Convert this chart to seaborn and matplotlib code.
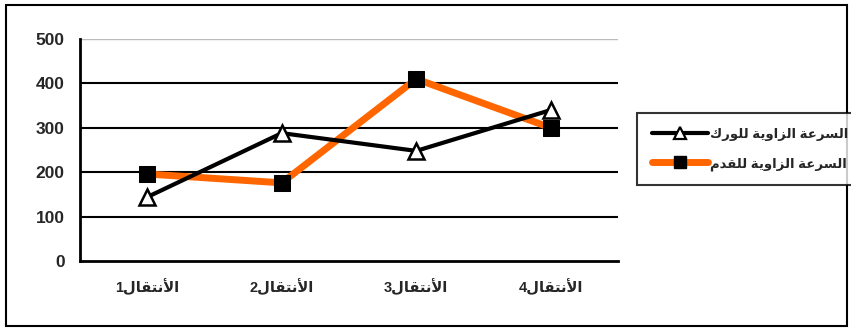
import matplotlib
matplotlib.use("Agg")
import matplotlib.pyplot as plt
from matplotlib.lines import Line2D
from matplotlib.patches import Rectangle
import numpy as np
import pandas as pd
import seaborn as sns

#%% Data
stages = [1, 2, 3, 4]
hip_speed = [144, 288, 248, 340]
foot_speed = [196, 176, 410, 300]
label_hip = 'السرعة الزاوية للورك'
label_foot = 'السرعة الزاوية للقدم'
stage_word = 'الأنتقال'
y_ticks = [0, 100, 200, 300, 400, 500]

#%% Minimal Arabic shaping (matplotlib draws glyphs left to right, unjoined)
FORMS = {
    'ا': (0xFE8D, 0xFE8E), 'أ': (0xFE83, 0xFE84), 'د': (0xFEA9, 0xFEAA),
    'ر': (0xFEAD, 0xFEAE), 'ز': (0xFEAF, 0xFEB0), 'و': (0xFEED, 0xFEEE),
    'ة': (0xFE93, 0xFE94),
    'ل': (0xFEDD, 0xFEDE, 0xFEDF, 0xFEE0), 'س': (0xFEB1, 0xFEB2, 0xFEB3, 0xFEB4),
    'ع': (0xFEC9, 0xFECA, 0xFECB, 0xFECC), 'ي': (0xFEF1, 0xFEF2, 0xFEF3, 0xFEF4),
    'ك': (0xFED9, 0xFEDA, 0xFEDB, 0xFEDC), 'ق': (0xFED5, 0xFED6, 0xFED7, 0xFED8),
    'م': (0xFEE1, 0xFEE2, 0xFEE3, 0xFEE4), 'ن': (0xFEE5, 0xFEE6, 0xFEE7, 0xFEE8),
    'ت': (0xFE95, 0xFE96, 0xFE97, 0xFE98),
    'لا': (0xFEFB, 0xFEFC), 'لأ': (0xFEF7, 0xFEF8),
}


def shape_word(word):
    toks = []
    i = 0
    while i < len(word):
        if word[i] == 'ل' and i + 1 < len(word) and word[i + 1] in 'اأ':
            toks.append(word[i:i + 2])
            i += 2
        else:
            toks.append(word[i])
            i += 1
    out = ''
    for k, t in enumerate(toks):
        f = FORMS[t]
        jp = k > 0 and len(FORMS[toks[k - 1]]) == 4
        jn = len(f) == 4 and k < len(toks) - 1
        idx = 3 if (jp and jn) else 1 if jp else 2 if jn else 0
        out += chr(f[idx])
    return out


def visual(text):
    return ' '.join(shape_word(w) for w in text.split(' '))[::-1]


df = pd.DataFrame({'x': np.arange(len(stages)), 'hip': hip_speed, 'foot': foot_speed})

#%% Figure
sns.set_style("white")
plt.rcParams['font.family'] = ['Liberation Sans', 'DejaVu Sans']
plt.rcParams['font.weight'] = 'bold'

fig = plt.figure(figsize=(8.51, 3.31), dpi=100)
ax = fig.add_axes([80 / 851, 1 - 261 / 331, 538 / 851, 222 / 331])

sns.lineplot(data=df, x='x', y='foot', ax=ax, color='#FF6600', linewidth=5,
             marker='s', markersize=11, markerfacecolor='black',
             markeredgecolor='black', zorder=3)
sns.lineplot(data=df, x='x', y='hip', ax=ax, color='black', linewidth=3,
             marker='^', markersize=11, markerfacecolor='white',
             markeredgecolor='black', markeredgewidth=1.8, zorder=4)

ax.set_xlim(-0.5, 3.5)
ax.set_ylim(0, 500)
ax.set_yticks(y_ticks)
ax.set_yticklabels([str(v) for v in y_ticks], fontsize=12.5, fontweight='bold')
ax.set_xticks(df['x'])
ax.set_xticklabels([str(s) + visual(stage_word) for s in stages], fontsize=10.5, fontweight='bold')
ax.set_xticks(np.arange(-0.5, 4, 1), minor=True)
ax.tick_params(axis='x', which='major', length=0, pad=12)
ax.tick_params(axis='x', which='minor', length=6, width=1.8, direction='out', color='black')
ax.tick_params(axis='y', length=8, width=1.8, direction='out', color='black', pad=3)
ax.set_xlabel('')
ax.set_ylabel('')

for v in y_ticks[1:-1]:
    ax.axhline(v, color='black', linewidth=1.5, zorder=1)
ax.axhline(500, color='#BBBBBB', linewidth=1, zorder=1)

for side in ['top', 'right']:
    ax.spines[side].set_visible(False)
for side in ['left', 'bottom']:
    ax.spines[side].set_color('black')
    ax.spines[side].set_linewidth(2)

handles = [
    Line2D([], [], color='black', linewidth=3, marker='^', markersize=9,
           markerfacecolor='white', markeredgecolor='black', markeredgewidth=1.6),
    Line2D([], [], color='#FF6600', linewidth=5, marker='s', markersize=9,
           markerfacecolor='black', markeredgecolor='black'),
]
leg = fig.legend(handles, [visual(label_hip), visual(label_foot)],
                 loc='upper left', bbox_to_anchor=(637 / 851, 1 - 113 / 331),
                 borderaxespad=0, frameon=True, fancybox=False, edgecolor='black',
                 handlelength=4.3, handletextpad=0.1, borderpad=1.1, labelspacing=1.25,
                 prop={'size': 9.5, 'weight': 'bold'})
leg.get_frame().set_linewidth(1.5)

fig.patches.append(Rectangle((6 / 851, 5 / 331), 841 / 851, 321 / 331,
                             transform=fig.transFigure, fill=False,
                             edgecolor='black', linewidth=1.5))

fig.savefig('out.png', dpi=100)
